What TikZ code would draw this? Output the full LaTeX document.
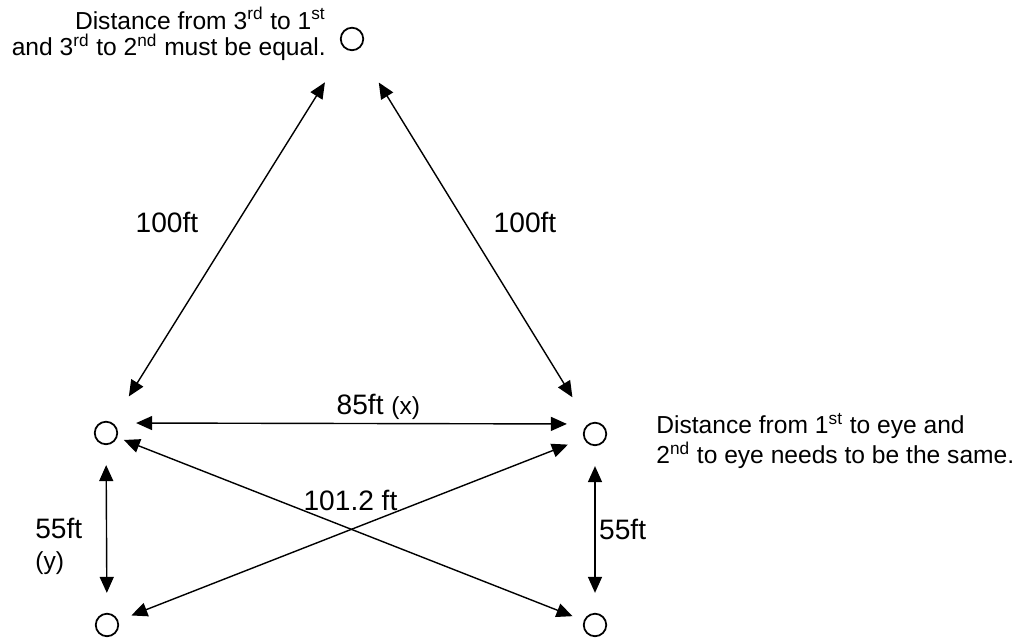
\documentclass[tikz,border=0pt]{standalone}
\usepackage{fontspec}
\setmainfont{Liberation Sans}
\usetikzlibrary{arrows.meta}

\begin{document}
\begin{tikzpicture}[
      every node/.style={font=\fontsize{16}{17.6}\selectfont, inner sep=2pt},
      spot/.style={draw, circle, line width=1pt, minimum size=0.45cm, inner sep=0pt},
      note/.style={font=\fontsize{14}{15}\selectfont},
      small/.style={font=\fontsize{14}{17}\selectfont},
      arrow/.style={{Triangle[length=0.32cm, width=0.28cm]}-{Triangle[length=0.32cm, width=0.28cm]}, line width=0.8pt}
   ]
   \useasboundingbox (0,0) rectangle (20.58,12.8);

   % Bases
   \node[spot] (third)  at (7.04, 12.02) {};
   \node[spot] (first)  at (2.12, 4.14) {};
   \node[spot] (second) at (11.90, 4.12) {};
   \node[spot] (eyeL)   at (2.14, 0.30) {};
   \node[spot] (eyeR)   at (11.90, 0.30) {};

   % Notes
   \node[note, align=right, anchor=east] (topnote) at (6.59, 12.12)
      {Distance from 3\textsuperscript{rd} to 1\textsuperscript{st}\\and 3\textsuperscript{rd} to 2\textsuperscript{nd} must be equal.};
   \node[small, align=left, anchor=west] (sidenote) at (13.05, 3.98)
      {Distance from 1\textsuperscript{st} to eye and\\2\textsuperscript{nd} to eye needs to be the same.};

   % Labels
   \node (lenL) at (3.34, 8.36) {100ft};
   \node (lenR) at (10.50, 8.36) {100ft};
   \node[align=left, anchor=west] (lenY) at (0.63, 1.87) {55ft\\{\fontsize{14}{14}\selectfont(y)}};

   \draw[arrow, shorten <=0.62cm, shorten >=0.78cm] (first) -- (third);
   \draw[arrow, shorten <=0.62cm, shorten >=0.78cm] (second) -- (third);

   \draw[arrow, shorten <=0.36cm, shorten >=0.32cm] ([yshift=0.2cm]first.east) --
      node[pos=0.56, above]{85ft {\fontsize{14}{14}\selectfont(x)}} ([yshift=0.2cm]second.west);

   \draw[arrow, shorten <=0.4cm, shorten >=0.4cm] (first) -- (eyeL);
   \draw[arrow, shorten <=0.4cm, shorten >=0.4cm] (second) -- node[midway, right]{55ft} (eyeR);

   \draw[arrow, shorten <=0.14cm, shorten >=0.24cm] (first) -- node[midway, above=0.27cm]{101.2 ft} (eyeR);
   \draw[arrow, shorten <=0.28cm, shorten >=0.34cm] (eyeL) -- (second);
\end{tikzpicture}
\end{document}
